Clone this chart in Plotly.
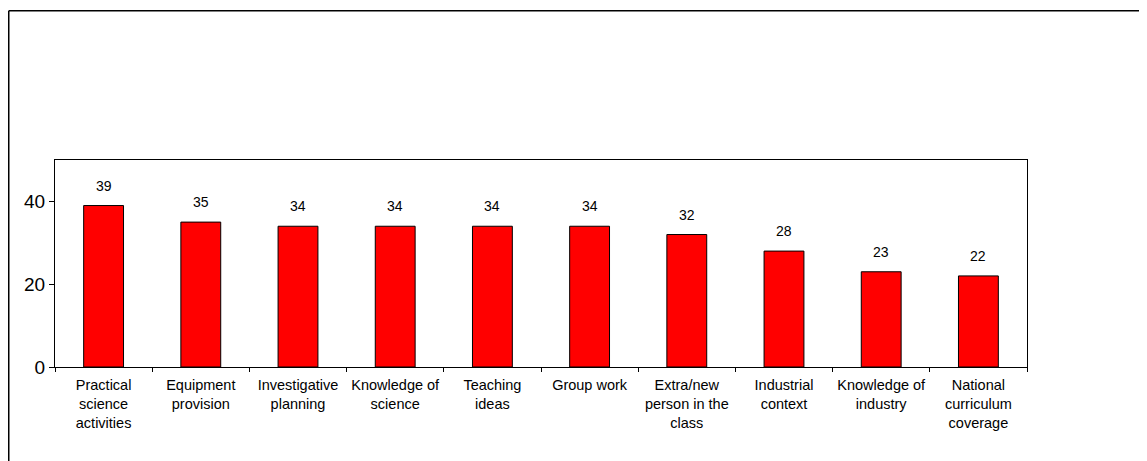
import plotly.graph_objects as go

categories = [
    "Practical<br>science<br>activities",
    "Equipment<br>provision",
    "Investigative<br>planning",
    "Knowledge of<br>science",
    "Teaching<br>ideas",
    "Group work",
    "Extra/new<br>person in the<br>class",
    "Industrial<br>context",
    "Knowledge of<br>industry",
    "National<br>curriculum<br>coverage",
]
values = [39, 35, 34, 34, 34, 34, 32, 28, 23, 22]
y_ticks = [0, 20, 40]

# page offset of 8px (default body margin)
OFF = 8
W, H = 1147 - OFF, 461 - OFF
L, R, T, B = 55 - OFF, 1027 - OFF, 160 - OFF, 367 - OFF

fig = go.Figure()
fig.add_trace(go.Bar(
    x=categories, y=values,
    marker=dict(color="#FF0000", line=dict(color="#000000", width=1)),
    hoverinfo="skip",
))

for c, v in zip(categories, values):
    fig.add_annotation(x=c, y=v, text=str(v), showarrow=False,
                       yanchor="bottom", yshift=10,
                       font=dict(size=14, color="#000000"))

def px_x(p):
    return (p - L) / (R - L)

def px_y(p):
    return (B - p) / (B - T)

frame = dict(color="#000000", width=1.5)
fig.add_shape(type="line", xref="paper", yref="paper",
              x0=px_x(0.75), x1=px_x(1160), y0=px_y(2.7), y1=px_y(2.7), line=frame)
fig.add_shape(type="line", xref="paper", yref="paper",
              x0=px_x(0.75), x1=px_x(0.75), y0=px_y(2.7), y1=px_y(480), line=frame)

fig.update_layout(
    width=W, height=H,
    margin=dict(l=L, r=W - R, t=T, b=H - B, pad=0),
    paper_bgcolor="white", plot_bgcolor="white",
    font=dict(family="Liberation Sans, Arial, sans-serif", color="#000000"),
    bargap=0.59,
    showlegend=False,
    xaxis=dict(
        showline=True, linecolor="#000000", linewidth=1, mirror=True,
        ticks="outside", ticklen=4, tickcolor="#000000", tickwidth=1,
        tickson="boundaries", showgrid=False,
        tickfont=dict(size=14.5), tickangle=0,
        ticklabelstandoff=5,
    ),
    yaxis=dict(
        range=[0, 50], tickvals=y_ticks,
        showline=True, linecolor="#000000", linewidth=1, mirror=True,
        ticks="outside", ticklen=5, tickcolor="#000000", tickwidth=1,
        showgrid=False, zeroline=False,
        tickfont=dict(size=19),
    ),
)

fig.write_html("out.html")
